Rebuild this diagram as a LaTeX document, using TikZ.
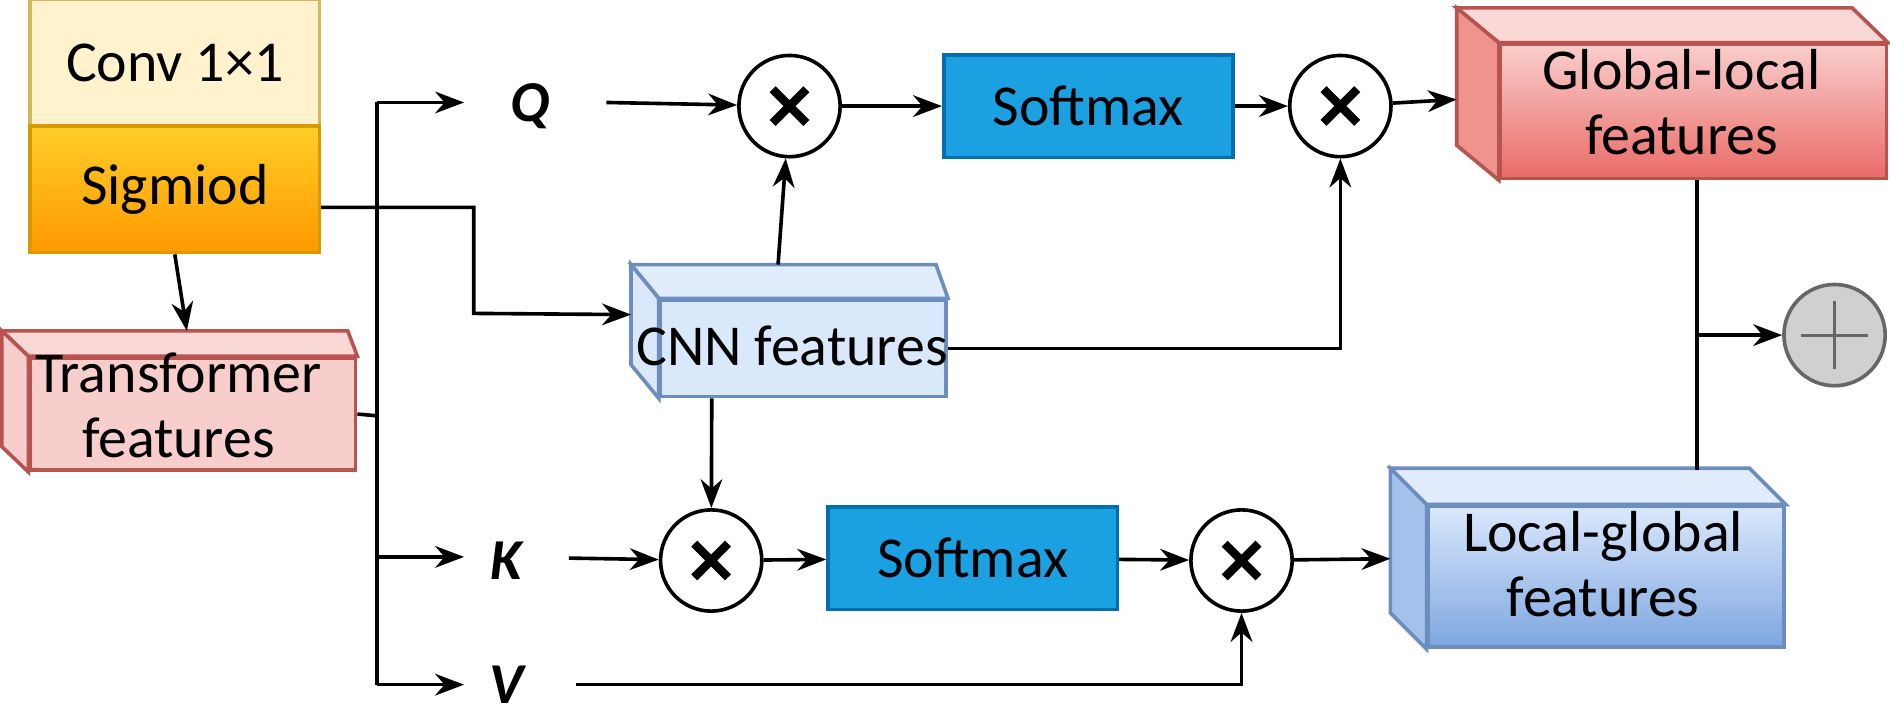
\documentclass[tikz,border=0pt]{standalone}
\usepackage{fontspec}
\setmainfont{Carlito}
\usetikzlibrary{arrows.meta,calc}
\definecolor{redline}{HTML}{B85450}
\definecolor{redtop}{HTML}{F8CECC}
\definecolor{redbot}{HTML}{EA6B66}
\definecolor{blueline}{HTML}{6C8EBF}
\definecolor{bluetop}{HTML}{DAE8FC}
\definecolor{bluebot}{HTML}{7EA6E0}
\definecolor{softfill}{HTML}{1BA1E2}
\definecolor{softline}{HTML}{006EAF}
\tikzset{every picture/.style={line width=1.5pt}}
\tikzset{
  arr/.style={-{Stealth[length=12pt,width=9pt]}},
  lab/.style={font=\fontsize{24}{27}\selectfont, align=center, inner sep=0pt},
  qkv/.style={font=\fontsize{24}{27}\selectfont\bfseries\itshape, inner sep=0pt},
  soft/.style={draw=softline, fill=softfill, minimum width=120pt, minimum height=42.5pt, lab},
  mult/.style={circle, draw, minimum size=42pt, inner sep=0pt, fill=white,
    path picture={\draw[line width=3.5pt] ($(path picture bounding box.center)+(-7pt,-7pt)$) -- ++(14pt,14pt)
      ($(path picture bounding box.center)+(-7pt,7pt)$) -- ++(14pt,-14pt);}},
}
% cuboid: #1 name, #2 line, #3 top colour, #4 bottom colour, #5 x-depth, #6 y-depth, #7 chamfer
\newcommand{\boxside}[7]{%
  \fill[#3!80!white, draw=#2, line width=1.5pt] ($(#1.north west)+(-#5,-#6)$) -- ($(#1.north east)+(-#7,-#6)$) -- (#1.north east) -- (#1.north west) -- cycle;
  \fill[#4!60!#3, draw=#2, line width=1.5pt] ($(#1.north west)+(-#5,-#6)$) -- (#1.north west) -- (#1.south west) -- ($(#1.south west)+(-#5,-#6)$) -- cycle;
}
\begin{document}
\begin{tikzpicture}[x=0.5pt,y=0.5pt,yscale=-1]
\useasboundingbox (0,0) rectangle (1568,596);

% left blocks
\node[draw={rgb,255:red,214;green,182;blue,86}, fill={rgb,255:red,255;green,242;blue,204}, minimum width=120pt, minimum height=52.5pt, lab] (conv) at (145,52) {Conv 1×1};
\node[draw={rgb,255:red,215;green,155;blue,0}, top color={rgb,255:red,255;green,205;blue,40}, bottom color={rgb,255:red,255;green,153;blue,0}, minimum width=120pt, minimum height=52.5pt, lab] (sig) at (145,157) {Sigmiod};

% cuboids
\node[draw=redline, fill=redtop, minimum width=135pt, minimum height=46.5pt] (trans) at (160,343.5) {};
\boxside{trans}{redline}{redtop}{redtop}{22}{21}{8}
\node[lab] (transl) at (148,336) {Transformer\\features};

\node[draw=blueline, fill=bluetop, minimum width=118.5pt, minimum height=40pt] (cnn) at (666.5,289) {};
\boxside{cnn}{blueline}{bluetop}{bluetop}{23}{28}{10}
\node[lab] (cnnl) at (657,287) {CNN features};

\node[draw=redline, top color=redtop, bottom color=redbot, minimum width=160pt, minimum height=55.5pt] (gl) at (1405,92.5) {};
\boxside{gl}{redline}{redtop}{redbot}{35}{29}{30}
\node[lab] (gll) at (1395,85) {Global-local\\features};

\node[draw=blueline, top color=bluetop, bottom color=bluebot, minimum width=147.5pt, minimum height=58.5pt] (lg) at (1332.5,478.5) {};
\boxside{lg}{blueline}{bluetop}{bluebot}{30}{30}{30}
\node[lab] (lgl) at (1330,468) {Local-global\\features};

% Q K V
\node[qkv] (q) at (440,88) {Q};
\node[qkv] (k) at (420,465) {K};
\node[qkv] (v) at (420,568) {V};

% operators
\node[mult] (m1) at (655,88) {};
\node[mult] (m2) at (1112,88) {};
\node[mult] (m3) at (590,465) {};
\node[mult] (m4) at (1030,465) {};
\node[soft] (s1) at (903,88) {Softmax};
\node[soft] (s2) at (807,463) {Softmax};
\node[circle, draw={rgb,255:red,102;green,102;blue,102}, fill={rgb,255:red,208;green,208;blue,210}, minimum size=42pt, inner sep=0pt,
  path picture={\draw[line width=1.2pt, gray!80!black] ($(path picture bounding box.center)+(-14pt,0)$) -- ++(28pt,0)
    ($(path picture bounding box.center)+(0,-14pt)$) -- ++(0,28pt);}] (plus) at (1522,278) {};

% bus
\coordinate (bt) at (313,85);
\coordinate (bb) at (313,568);
\draw (bt) -- (bb);
\draw (trans.east) -- (313,345);
\draw[arr] (bt) -- (385,85);
\draw[arr] (313,462) -- (385,462);
\draw[arr] (bb) -- (385,568);

\draw[arr] (sig.south) -- ($(trans.north)+(-5,-21)$);
\draw[arr] (sig.east |- 0,172) -| (393,260) -- ($(cnn.west)+(-23,-28)$);

% top row
\draw[arr] (503,85) -- (m1);
\draw[arr] (m1) -- (s1);
\draw[arr] (s1) -- (m2);
\draw[arr] (m2) -- ($(gl.west)+(-35,-10)$);
\draw[arr] ($(cnn.north)+(-21,-28)$) -- (m1);
\draw[arr] (cnn.east) -| (m2);

% bottom row
\draw[arr] ($(cnn.south)+(-76,0)$) -- (m3);
\draw[arr] (472,463) -- (m3);
\draw[arr] (m3) -- (s2);
\draw[arr] (s2) -- (m4);
\draw[arr] (m4) -- ($(lg.west)+(-30,-15)$);
\draw[arr] (478,568) -| (m4);

% sum
\draw (gl.south -| 1408,0) -- (1408,390);
\draw[arr] (1408,278) -- (plus);
\end{tikzpicture}
\end{document}
